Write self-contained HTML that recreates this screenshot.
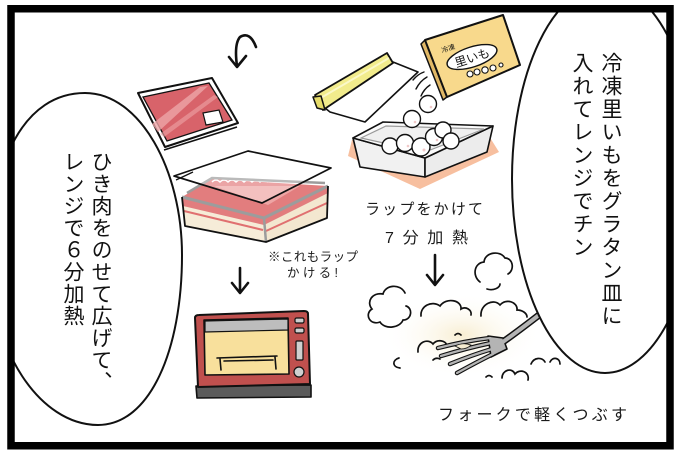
<!DOCTYPE html>
<html><head><meta charset="utf-8"><style>
html,body{margin:0;padding:0;background:#fff;}
#wrap{position:relative;width:680px;height:455px;overflow:hidden;background:#fff;}
svg{position:absolute;left:0;top:0;}
.vt{position:absolute;writing-mode:vertical-rl;text-orientation:upright;font-family:"Liberation Sans","Noto Sans CJK JP",sans-serif;font-size:21px;color:#111;white-space:nowrap;}
</style></head><body><div id="wrap">
<svg width="680" height="455" viewBox="0 0 680 455" xmlns="http://www.w3.org/2000/svg">
<defs>
<clipPath id="fr"><rect x="14" y="12" width="653" height="430"/></clipPath>
<radialGradient id="glow" cx="0.5" cy="0.5" r="0.5"><stop offset="0" stop-color="#f8eed2"/><stop offset="1" stop-color="#ffffff" stop-opacity="0"/></radialGradient>
</defs>
<rect width="680" height="455" fill="#fff"/>

<!-- curved arrow -->
<g fill="none" stroke="#111" stroke-width="2.6" stroke-linecap="round" stroke-linejoin="round">
<path d="M256 47 Q250 31 240 37 Q234 44 237 66"/>
<path d="M229 57 L237 67 L246 56"/>
</g>

<!-- meat tray -->
<path d="M138 93 L212 78 L238 123 L165 147 Z" fill="#fff" stroke="#111" stroke-width="2" stroke-linejoin="round"/>
<path d="M143 97 L209 83 L232 120 L167 141 Z" fill="#d8636a" stroke="#111" stroke-width="1.3"/>
<path d="M152 124 L200 87 L208 86 L158 132 Z" fill="#eea5a7" opacity="0.8"/>
<path d="M160 134 L214 95 L218 97 L164 137 Z" fill="#eea5a7" opacity="0.6"/>
<path d="M203 113 L219 110 L223 122 L206 125 Z" fill="#fff" stroke="#111" stroke-width="1.2"/>
<path d="M164 150 L237 127" stroke="#111" stroke-width="1.6" fill="none"/>

<!-- wrap roll -->
<path d="M325 108 L393 62 L418 72 L365 122 L330 112 Z" fill="#fff" stroke="#111" stroke-width="1.6" stroke-linejoin="round"/>
<path d="M315 95 L387 53 L393 63 L323 110 Z" fill="#f2ec8c" stroke="#111" stroke-width="1.8" stroke-linejoin="round"/>
<path d="M319 99 L389 58" stroke="#fbf8c8" stroke-width="2" fill="none"/>
<path d="M313 97 L321 96 L325 110 L317 108 Z" fill="#e6dc6a" stroke="#111" stroke-width="1.5" stroke-linejoin="round"/>

<!-- box -->
<path d="M421 44 L425 40 L447 97 L443 100 Z" fill="#e1b866" stroke="#111" stroke-width="1.5" stroke-linejoin="round"/>
<path d="M425 40 L503 15 L520 65 L447 97 Z" fill="#f8d98c" stroke="#111" stroke-width="2" stroke-linejoin="round"/>
<ellipse cx="472" cy="57" rx="26" ry="10" transform="rotate(-18 472 57)" fill="#fff" stroke="#111" stroke-width="1.4"/>
<text x="472" y="62" text-anchor="middle" transform="rotate(-18 472 57)" font-family="'Liberation Sans','Noto Sans CJK JP',sans-serif" font-size="12" fill="#111">里いも</text>
<text x="448" y="51" text-anchor="middle" transform="rotate(-18 448 48)" font-family="'Liberation Sans','Noto Sans CJK JP',sans-serif" font-size="7" fill="#111">冷凍</text>
<g fill="#fff" stroke="#111" stroke-width="1.1">
<circle cx="470" cy="74" r="3"/><circle cx="477" cy="72" r="3"/><circle cx="485" cy="70" r="3.2"/><circle cx="493" cy="68" r="3"/><circle cx="501" cy="65" r="2"/>
</g>
<g fill="none" stroke="#111" stroke-width="1.4" stroke-linecap="round">
<path d="M413 80 Q418 74 424 72"/><path d="M416 89 Q420 81 427 77"/><path d="M421 96 Q424 89 430 85"/>
</g>

<!-- potato dish -->
<path d="M348 156 L420 189 L499 152 L489 136 L352 140 Z" fill="#f7bf9f"/>
<path d="M353 138 L425 158 L425 177 L360 167 Z" fill="#f1f1f1" stroke="#111" stroke-width="1.6" stroke-linejoin="round"/>
<path d="M425 158 L493 126 L487 152 L425 177 Z" fill="#ececec" stroke="#111" stroke-width="1.6" stroke-linejoin="round"/>
<path d="M353 138 L383 122 L493 126 L425 158 Z" fill="#fbfbfb" stroke="#111" stroke-width="1.6" stroke-linejoin="round"/>
<path d="M361 138 L386 126 L484 129 L425 152 Z" fill="#f0f0f0" stroke="#9a9a9a" stroke-width="1.2"/>
<g fill="#fff" stroke="#111" stroke-width="1.4">
<circle cx="390" cy="146" r="8"/><circle cx="405" cy="143" r="8.5"/><circle cx="421" cy="147" r="9"/>
<circle cx="434" cy="137" r="8.5"/><circle cx="443" cy="130" r="8"/><circle cx="451" cy="141" r="8"/>
<circle cx="412" cy="119" r="8.5"/><circle cx="428" cy="104" r="8.5"/>
</g>
<g fill="#f0c8c8"><circle cx="424" cy="150" r="1.5"/><circle cx="408" cy="146" r="1.3"/><circle cx="437" cy="140" r="1.3"/><circle cx="431" cy="107" r="1.3"/><circle cx="415" cy="122" r="1.3"/></g>

<!-- middle container with meat -->
<path d="M182 197 L264 218 L266 242 L185 226 Z" fill="#f6ecd8"/>
<path d="M264 218 L328 186 L327 218 L266 242 Z" fill="#f3e7d0"/>
<path d="M182 197 L264 218 L264 225 L183 206 Z" fill="#e27d7e"/>
<path d="M264 218 L328 186 L328 193 L264 225 Z" fill="#e27d7e"/>
<path d="M184 211 L263 230" stroke="#e07070" stroke-width="2" fill="none"/>
<path d="M266 231 L327 203" stroke="#e07070" stroke-width="2" fill="none"/>
<path d="M182 197 L212 179 L328 186 L264 218 Z" fill="#e27d7e"/>
<path d="M214 186 L300 186 L268 205 Z" fill="#f2b3b1" opacity="0.75"/>
<path d="M212 182 q4 -4 8 0 q4 -4 8 0 q4 -4 8 0 q4 -4 8 0 q4 -4 8 0 q4 -4 8 0 q4 -4 8 0" fill="none" stroke="#fff" stroke-width="1.5"/>
<path d="M187 193 L212 178 L325 183" fill="none" stroke="#9c9c9c" stroke-width="2.5"/>
<path d="M182 197 L264 218 L328 186" fill="none" stroke="#9c9c9c" stroke-width="3"/>
<path d="M264 218 L266 242" stroke="#9c9c9c" stroke-width="2.5"/>
<path d="M182 197 L185 226 L266 242 L327 218 L328 186" fill="none" stroke="#111" stroke-width="1.8" stroke-linejoin="round"/>
<path d="M174 176 L248 151 L331 168 L262 203 Z" fill="#ffffff" fill-opacity="0.3" stroke="#111" stroke-width="1.7" stroke-linejoin="round"/>
<path d="M176 180 L193 172" stroke="#111" stroke-width="1.3"/>

<!-- arrows -->
<g fill="none" stroke="#111" stroke-width="2.6" stroke-linecap="round" stroke-linejoin="round">
<path d="M240 268 L240 292"/><path d="M232 283 L240 293 L248 283"/>
<path d="M435 255 L435 284"/><path d="M427 275 L435 285 L443 275"/>
</g>

<!-- oven -->
<path d="M196 386 L311 385 L311 397 L197 398 Z" fill="#5b5b5b" stroke="#111" stroke-width="1.6" stroke-linejoin="round"/>
<path d="M195 318 Q195 315 199 315 L304 311 Q308 311 308 314 L310 384 L198 387 Z" fill="#c0504e" stroke="#111" stroke-width="2" stroke-linejoin="round"/>
<path d="M204 320 L288 318 L289 374 L205 375 Z" fill="#f8e09c" stroke="#111" stroke-width="1.6" stroke-linejoin="round"/>
<path d="M205 321 L288 319 L288 330 L205 332 Z" fill="#bdbdbd" stroke="#111" stroke-width="1.2"/>
<g fill="none" stroke="#111" stroke-width="1.6" stroke-linecap="round">
<path d="M217 358 L277 356"/><path d="M220 359 L221 370"/><path d="M275 357 L276 369"/><path d="M224 361 L273 360"/>
</g>
<g fill="#cfcfcf" stroke="#111" stroke-width="1.2">
<rect x="295" y="318" width="9" height="5" rx="1.5"/><rect x="295" y="328" width="9" height="5" rx="1.5"/>
<rect x="296" y="341" width="7" height="19" rx="1"/><circle cx="299" cy="372" r="5"/>
</g>

<!-- steam glow and clouds -->
<ellipse cx="462" cy="335" rx="80" ry="42" fill="url(#glow)"/>
<g fill="none" stroke="#111" stroke-width="1.7" stroke-linecap="round">
<path d="M405 293 C400 283 385 285 383 294 C372 292 366 302 372 309 C364 314 370 326 380 322 C385 330 400 328 403 320 C412 320 413 308 406 306"/>
<path d="M421 316 C420 306 432 300 440 306 C446 297 462 300 461 309 C466 306 472 310 471 315"/>
<path d="M481 316 C480 304 494 298 500 305 C506 298 518 302 517 310 C522 310 527 313 527 317"/>
<path d="M480 282 C472 276 474 263 484 262 C485 252 500 250 505 258 C513 258 515 270 508 274"/>
<path d="M487 289 C493 291 500 288 500 284"/>
<path d="M418 352 C417 342 428 338 433 344 C437 339 446 340 447 346"/>
<path d="M399 358 C392 360 392 367 400 368"/>
<path d="M502 378 C502 370 512 367 515 374 C520 368 530 372 528 380"/>
<path d="M531 364 C534 357 542 357 545 362"/><path d="M550 362 C553 356 560 358 560 364"/>
<path d="M433 360 q3 -3 7 -1"/><path d="M486 377 q3 -3 6 0"/><path d="M455 335 q3 -3 6 0"/>
</g>

<!-- fork -->
<g fill="none" stroke-linecap="round" stroke-linejoin="round">
<g stroke="#111" stroke-width="7">
<path d="M500 344 Q520 330 548 308"/>
</g>
<g stroke="#111" stroke-width="4.5">
<path d="M490 338 Q465 341 438 348"/><path d="M491 343 Q467 348 441 356"/>
<path d="M492 349 Q472 355 450 364"/><path d="M493 354 Q477 362 457 373"/>
</g>
<path d="M488 336 L503 338 L507 349 L491 357 Z" fill="#b4b4b4" stroke="#111" stroke-width="1.6"/>
<g stroke="#b4b4b4" stroke-width="4">
<path d="M500 344 Q520 330 548 308"/>
</g>
<g stroke="#b4b4b4" stroke-width="2.3">
<path d="M490 338 Q465 341 438 348"/><path d="M491 343 Q467 348 441 356"/>
<path d="M492 349 Q472 355 450 364"/><path d="M493 354 Q477 362 457 373"/>
</g>
<path d="M489 338 L502 339 L505 348 L492 355 Z" fill="#b4b4b4" stroke="none"/>
</g>
<path d="M455 346 q8 -4 16 -1 q-4 4 -10 4 Z" fill="#f5ecd2" stroke="#111" stroke-width="0.8"/>

<!-- bubbles -->
<g clip-path="url(#fr)">
<path d="M-10 260 C-10 160 25 93 85 93 C140 93 182 170 182 255 C182 350 150 425 98 425 C40 425 -10 350 -10 260 Z" fill="#fff" stroke="#111" stroke-width="2"/>
<ellipse cx="605" cy="179" rx="93" ry="194" fill="#fff" stroke="#111" stroke-width="2"/>
</g>

<!-- labels -->
<g font-family="'Liberation Sans','Noto Sans CJK JP',sans-serif" fill="#1a1a1a">
<text x="365" y="214" font-size="15" textLength="118" lengthAdjust="spacing">ラップをかけて</text>
<text x="385" y="243" font-size="16" textLength="83" lengthAdjust="spacing">7分加熱</text>
<text x="268" y="261" font-size="12.5" textLength="90" lengthAdjust="spacing">※これもラップ</text>
<text x="287" y="277" font-size="12.5" textLength="51" lengthAdjust="spacing">かける!</text>
<text x="438" y="420" font-size="16" textLength="189" lengthAdjust="spacing">フォークで軽くつぶす</text>
</g>

<!-- frame -->
<rect x="11" y="8.75" width="659" height="437" fill="none" stroke="#000" stroke-width="7.5"/>
</svg>

<div class="vt" style="left:58px;top:151px;line-height:28px;letter-spacing:1px;">ひき肉をのせて広げて、<br>レンジで６分加熱</div>
<div class="vt" style="left:567px;top:52px;line-height:29px;letter-spacing:2px;">冷凍里いもをグラタン皿に<br>入れてレンジでチン</div>
</div></body></html>
